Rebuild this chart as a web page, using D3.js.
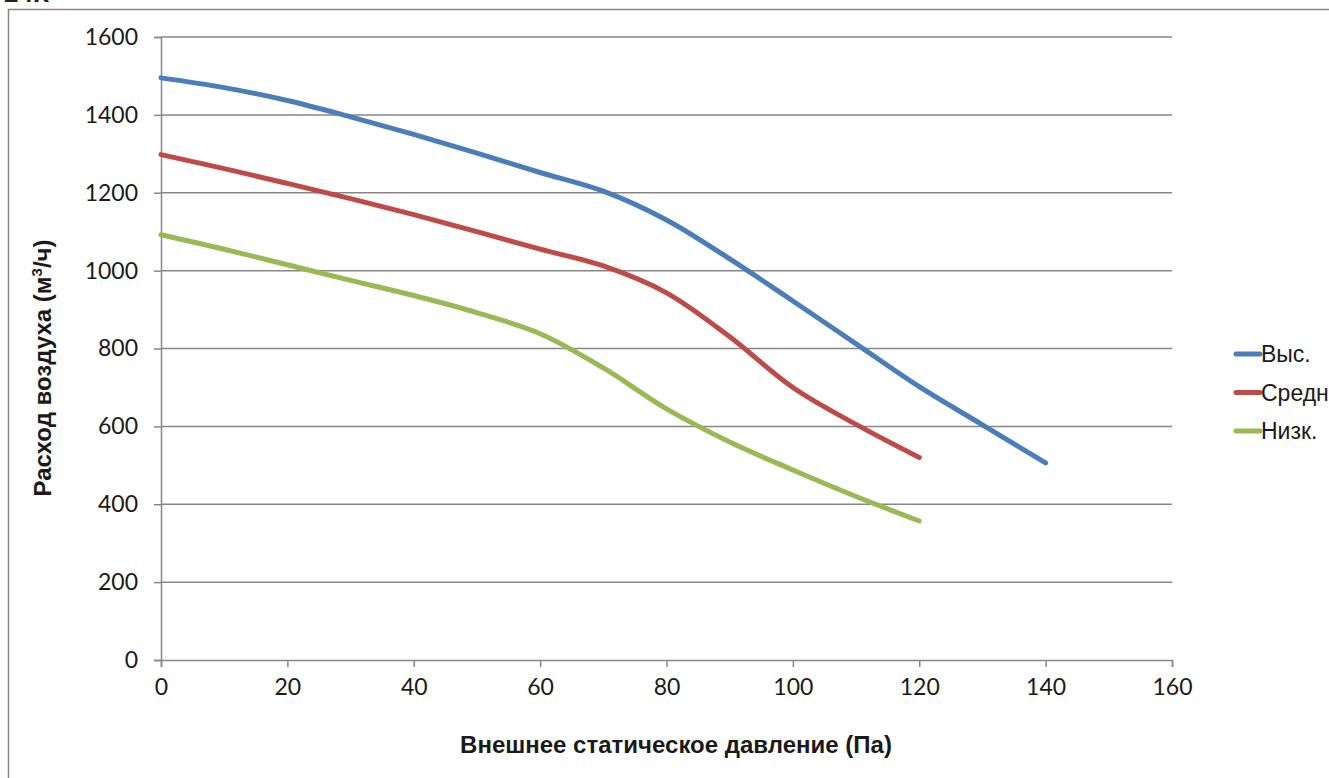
<!DOCTYPE html>
<html><head><meta charset="utf-8">
<script src="https://cdn.jsdelivr.net/npm/d3@7"></script>
<style>body{margin:0;background:#fff;overflow:hidden}svg{display:block}</style>
</head><body>
<script>
const pressure = [0, 10, 20, 30, 40, 50, 60, 70, 80, 90, 100, 110, 120, 130, 140];
const highFlow = [1495, 1470, 1437, 1395, 1350, 1302, 1252, 1204, 1130, 1030, 922, 812, 702, 604, 506];
const midFlow  = [1298, 1262, 1224, 1185, 1144, 1100, 1055, 1012, 943, 830, 700, 605, 520];
const lowFlow  = [1092, 1055, 1015, 975, 936, 892, 838, 750, 645, 560, 488, 420, 357];
const seriesNames = ["Выс.", "Средн", "Низк."];
const seriesColors = ["#4a7ebb", "#be4b48", "#98b954"];
const xTicks = [0, 20, 40, 60, 80, 100, 120, 140, 160];
const yTicks = [0, 200, 400, 600, 800, 1000, 1200, 1400, 1600];

const W = 1329, H = 778;
const svg = d3.select("body").append("svg").attr("width", W).attr("height", H);

// outer frame
svg.append("rect").attr("x", 8.5).attr("y", 9.5).attr("width", 1400).attr("height", 900)
  .attr("fill", "none").attr("stroke", "#878787").attr("stroke-width", 1.5);
svg.append("text").attr("x", 4).attr("y", 2).attr("font-family", "Liberation Sans, Arial")
  .attr("font-weight", "bold").attr("font-size", 26).attr("fill", "#222").text("24К");

const x = d3.scaleLinear().domain([0, 160]).range([161, 1172]);
const y = d3.scaleLinear().domain([0, 1600]).range([660, 37]);

// gridlines
svg.append("g").selectAll("line").data(yTicks.filter(d => d > 0)).join("line")
  .attr("x1", x(0)).attr("x2", x(160)).attr("y1", d => y(d)).attr("y2", d => y(d))
  .attr("stroke", "#878787").attr("stroke-width", 1.5);

const yAxis = svg.append("g").attr("transform", `translate(${x(0)},0)`)
  .call(d3.axisLeft(y).tickValues(yTicks).tickSize(7).tickPadding(16).tickFormat(d3.format("d")));
const xAxis = svg.append("g").attr("transform", `translate(0,${y(0)})`)
  .call(d3.axisBottom(x).tickValues(xTicks).tickSize(7).tickPadding(12).tickFormat(d3.format("d")));
[yAxis, xAxis].forEach(a => {
  a.select(".domain").attr("stroke", "#878787").attr("stroke-width", 1.5);
  a.selectAll(".tick line").attr("stroke", "#878787").attr("stroke-width", 1.5);
  a.selectAll(".tick text").attr("font-family", "Lato, sans-serif").attr("font-size", 23).attr("fill", "#1a1a1a");
});

const line = d3.line().x(d => x(d[0])).y(d => y(d[1])).curve(d3.curveCatmullRom.alpha(0.5));
const data = [highFlow, midFlow, lowFlow].map(s => s.map((v, i) => [pressure[i], v]));
svg.append("g").selectAll("path").data(data).join("path")
  .attr("d", line).attr("fill", "none")
  .attr("stroke", (d, i) => seriesColors[i]).attr("stroke-width", 5).attr("stroke-linecap", "round");

// axis titles
svg.append("text").attr("x", 676).attr("y", 753).attr("text-anchor", "middle")
  .attr("font-family", "Liberation Sans, Arial").attr("font-weight", "bold").attr("font-size", 24)
  .attr("fill", "#1a1a1a").text("Внешнее статическое давление (Па)");
svg.append("text").attr("transform", "translate(51,368) rotate(-90)").attr("text-anchor", "middle")
  .attr("font-family", "Liberation Sans, Arial").attr("font-weight", "bold").attr("font-size", 24)
  .attr("fill", "#1a1a1a")
  .call(t => { t.append("tspan").text("Расход воздуха (м"); t.append("tspan").attr("font-size", 15).attr("dy", -9).text("3"); t.append("tspan").attr("dy", 9).text("/ч)"); });

// legend
const leg = svg.append("g").selectAll("g").data(seriesNames).join("g")
  .attr("transform", (d, i) => `translate(1236,${354 + i * 38.5})`);
leg.append("line").attr("x1", 0).attr("x2", 24).attr("y1", 0).attr("y2", 0)
  .attr("stroke", (d, i) => seriesColors[i]).attr("stroke-width", 5).attr("stroke-linecap", "round");
leg.append("text").attr("x", 25).attr("y", 8).attr("font-family", "Liberation Sans, Arial")
  .attr("font-size", 23).attr("fill", "#1a1a1a").text(d => d);
</script>
</body></html>
